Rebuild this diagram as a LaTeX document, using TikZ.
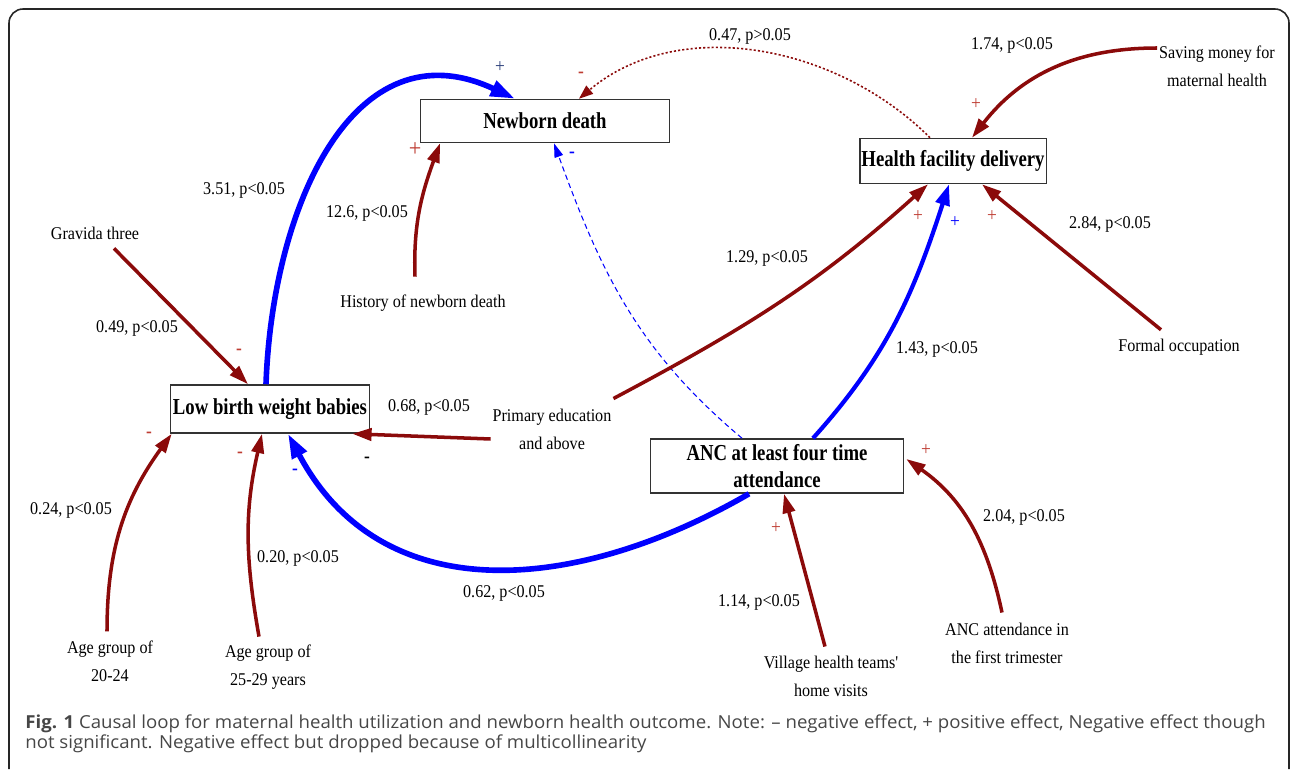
\documentclass[tikz,border=0pt]{standalone}
\usepackage{fontspec}
\setmainfont{Liberation Serif}
\newfontfamily\lblfont[FakeStretch=0.9]{Liberation Serif}
\newfontfamily\boxfont[FakeStretch=0.82]{Liberation Serif}
\newfontfamily\capfont[FakeStretch=1.04]{Open Sans}
\usetikzlibrary{arrows.meta}
\usetikzlibrary{calc}

\definecolor{effred}{RGB}{139,10,10}
\definecolor{signred}{RGB}{190,60,50}
\definecolor{effblue}{RGB}{0,0,255}
\definecolor{signnavy}{RGB}{40,60,120}
\definecolor{capgray}{RGB}{70,70,70}

\tikzset{
    var/.style={draw=black!80, line width=0.9pt, fill=white, inner sep=1pt, align=center,
        font=\boxfont\bfseries\fontsize{13}{15}\selectfont},
    factor/.style={inner sep=1pt, align=center, font=\lblfont\fontsize{10.2}{16}\selectfont},
    coef/.style={inner sep=1pt, font=\lblfont\fontsize{10.2}{12}\selectfont},
    sign/.style={inner sep=0pt, font=\lblfont\fontsize{11}{11}\selectfont},
    redarrow/.style={draw=effred, line width=2pt, -{Triangle[length=11pt,width=7pt]}},
    bluearrow/.style={draw=effblue, line width=3.2pt, -{Triangle[length=14pt,width=9pt]}},
    bluethin/.style={draw=effblue, line width=2.4pt, -{Triangle[length=12pt,width=8pt]}},
    reddotted/.style={draw=effred, line width=0.9pt, dash pattern=on 1.2pt off 1.2pt,
        -{Triangle[length=8pt,width=6pt]}},
    bluedashed/.style={draw=effblue, line width=0.6pt, dash pattern=on 3pt off 2pt,
        -{Triangle[length=8pt,width=5pt]}}
}

\begin{document}
\begin{tikzpicture}[x=0.02cm,y=0.02cm]
        \useasboundingbox (0,0) rectangle (1292,769);
        \draw[black!85, line width=0.9pt, rounded corners=8pt] (9,0) -- (9,760) -- (1289,760) -- (1289,0);

        \node[var, minimum width=4.98cm, minimum height=0.86cm] (ND) at (545,648) {Newborn death};
        \node[var, minimum width=3.7cm, minimum height=0.9cm] (HFD) at (953,608) {Health facility delivery};
        \node[var, minimum width=3.98cm, minimum height=0.96cm] (LBW) at (270,360) {Low birth weight babies};
        \node[var, minimum width=5.06cm, minimum height=1.08cm] (ANC) at (777,303) {ANC at least four time\\attendance};

        \node[factor] (grav) at (95,536) {Gravida three};
        \node[factor] (hist) at (423,466) {History of newborn death};
        \node[factor] (save) at (1217,703) {Saving money for\\maternal health};
        \node[factor] (occ) at (1179,422) {Formal occupation};
        \node[factor] (prim) at (552,340) {Primary education\\and above};
        \node[factor] (age1) at (110,108) {Age group of\\20-24};
        \node[factor] (age2) at (268,102) {Age group of\\25-29 years};
        \node[factor] (vht) at (831,93) {Village health teams'\\home visits};
        \node[factor] (trim) at (1007,126) {ANC attendance in\\the first trimester};

        \draw[bluearrow] ($(LBW.north)+(-4,0)$) to[out=88,in=155,looseness=1.2] ($(ND.north)+(-30,0)$);
        \draw[reddotted] ($(HFD.north)+(-23,0)$) to[out=135,in=40,looseness=0.95] ($(ND.north)+(34,0)$);
        \draw[bluedashed] ($(ANC.north)+(-35,0)$) to[out=140,in=-70] ($(ND.south)+(9,0)$);
        \draw[redarrow] ($(hist.north)+(-8,16)$) to[out=92,in=-110] ($(ND.south)+(-105,0)$);
        \draw[redarrow] ($(save.west)+(0,18)$) to[out=180,in=52] ($(HFD.north)+(19,0)$);
        \draw[redarrow] ($(occ.north)+(-18,7)$) -- ($(HFD.south)+(29,0)$);
        \draw[redarrow] ($(prim.north east)+(0,8)$) to[out=28,in=-138] ($(HFD.south)+(-25,0)$);
        \draw[bluethin] ($(ANC.north)+(36,0)$) to[out=48,in=-108] ($(HFD.south)+(-4,0)$);
        \draw[redarrow] ($(prim.west)+(0,-10)$) -- ($(LBW.south east)+(-18,0)$);
        \draw[redarrow] ($(grav.south)+(19,-7)$) -- ($(LBW.north)+(-22,0)$);
        \draw[bluearrow] ($(ANC.south)+(-28,0)$) to[out=210,in=-62,looseness=1.1] ($(LBW.south)+(18,0)$);
        \draw[redarrow] ($(age1.north)+(-3,7)$) to[out=90,in=-126] ($(LBW.south west)+(2,0)$);
        \draw[redarrow] ($(age2.north)+(-9,6)$) to[out=100,in=-103] ($(LBW.south)+(-8,0)$);
        \draw[redarrow] ($(vht.north)+(-6,7)$) -- ($(ANC.south)+(7,0)$);
        \draw[redarrow] ($(trim.north)+(-5,8)$) to[out=102,in=-35] ($(ANC.east)+(2,7)$);

        \node[coef] (c351) at (244,579) {3.51, p<0.05};
        \node[coef] (c126) at (367,556) {12.6, p<0.05};
        \node[coef] (c047) at (750,733) {0.47, p>0.05};
        \node[coef] (c174) at (1012,724) {1.74, p<0.05};
        \node[coef] (c129) at (767,511) {1.29, p<0.05};
        \node[coef] (c284) at (1110,545) {2.84, p<0.05};
        \node[coef] (c049) at (137,441) {0.49, p<0.05};
        \node[coef] (c068) at (429,362) {0.68, p<0.05};
        \node[coef] (c143) at (937,420) {1.43, p<0.05};
        \node[coef] (c024) at (71,259) {0.24, p<0.05};
        \node[coef] (c020) at (298,211) {0.20, p<0.05};
        \node[coef] (c062) at (504,176) {0.62, p<0.05};
        \node[coef] (c114) at (759,167) {1.14, p<0.05};
        \node[coef] (c204) at (1024,252) {2.04, p<0.05};

        \node[sign, text=signnavy] (sLbwNd) at (500,702) {+};
        \node[sign, text=signred] (sHfdNd) at (581,694) {\textbf{-}};
        \node[sign, text=signred, font=\lblfont\fontsize{14}{14}\selectfont] (sHistNd) at (415,619) {+};
        \node[sign, text=effblue] (sAncNd) at (572,614) {\textbf{-}};
        \node[sign, text=signred] (sSaveHfd) at (976,665) {+};
        \node[sign, text=signred] (sPrimHfd) at (918,553) {+};
        \node[sign, text=effblue] (sAncHfd) at (955,547) {+};
        \node[sign, text=signred] (sOccHfd) at (992,553) {+};
        \node[sign, text=signred] (sGravLbw) at (239,417) {\textbf{-}};
        \node[sign, text=black] (sPrimLbw) at (367,309) {\textbf{-}};
        \node[sign, text=signred] (sAgeOneLbw) at (149,334) {\textbf{-}};
        \node[sign, text=signred] (sAgeTwoLbw) at (240,314) {\textbf{-}};
        \node[sign, text=effblue] (sAncLbw) at (295,297) {\textbf{-}};
        \node[sign, text=signred] (sTrimAnc) at (926,319) {+};
        \node[sign, text=signred] (sVhtAnc) at (776,241) {+};

        \node[anchor=north west, align=left, inner sep=0pt, text=capgray,
            font=\capfont\fontsize{10.2}{11.4}\selectfont] (cap) at (25,55)
            {\textbf{Fig. 1} Causal loop for maternal health utilization and newborn health outcome. Note: – negative effect, + positive effect, Negative effect though\\not significant. Negative effect but dropped because of multicollinearity};
    \end{tikzpicture}
\end{document}
